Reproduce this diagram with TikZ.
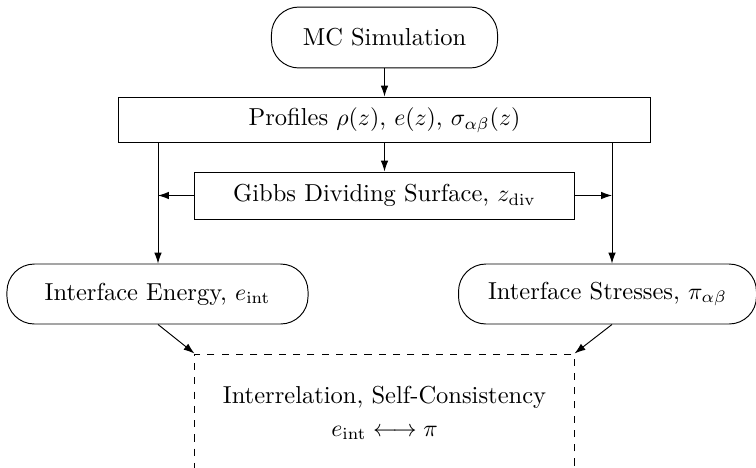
\documentclass[tikz,border=0pt]{standalone}
\usetikzlibrary{arrows.meta}
\begin{document}
\begin{tikzpicture}[x=0.4202pt, y=-0.4202pt,
  box/.style={draw, thin, inner sep=0pt, align=center, font=\fontsize{10.3}{12.4}\selectfont},
  pill/.style={box, rounded corners=11.5pt},
  arr/.style={thin, -{Latex[length=4.6pt,width=3.2pt]}}]
  % page frame; the lower box runs past the bottom edge
  \useasboundingbox (0,0) rectangle (756,467);
  \clip (0,0) rectangle (756,467);

  % nodes
  \node[pill, minimum width=95pt, minimum height=25.6pt] (mc) at (384.5,37.5) {MC Simulation};
  \node[box, minimum width=223.5pt, minimum height=19.3pt] (prof) at (384.5,120)
    {Profiles $\rho(z)$, $e(z)$, $\sigma_{\alpha\beta}(z)$};
  \node[box, minimum width=159.3pt, minimum height=19.75pt] (gibbs) at (384.5,195.5)
    {Gibbs Dividing Surface, $z_{\mathrm{div}}$};
  \node[pill, minimum width=126.5pt, minimum height=25.2pt] (energy) at (157.5,294)
    {Interface Energy, $e_{\mathrm{int}}$};
  \node[pill, minimum width=125.2pt, minimum height=25.2pt] (stress) at (607.5,294)
    {Interface Stresses, $\pi_{\alpha\beta}$};
  \node[box, dashed, minimum width=159.3pt, minimum height=49.6pt] (rel) at (384.5,413)
    {Interrelation, Self-Consistency\\[1.4pt] $e_{\mathrm{int}} \longleftrightarrow \pi$};

  % vertical branch lines
  \coordinate (xl) at (158,0);
  \coordinate (xr) at (612,0);

  % connectors
  \draw[arr] (mc.south) -- (prof.north);
  \draw[arr] (prof.south) -- (gibbs.north);
  \draw[arr] (prof.south -| xl) -- (energy.north -| xl);
  \draw[arr] (prof.south -| xr) -- (stress.north -| xr);
  \draw[arr] (gibbs.west) -- (gibbs.west -| xl);
  \draw[arr] (gibbs.east) -- (gibbs.east -| xr);
  \draw[arr] (energy.south -| xl) -- (rel.north west);
  \draw[arr] (stress.south -| xr) -- (rel.north east);
\end{tikzpicture}
\end{document}
